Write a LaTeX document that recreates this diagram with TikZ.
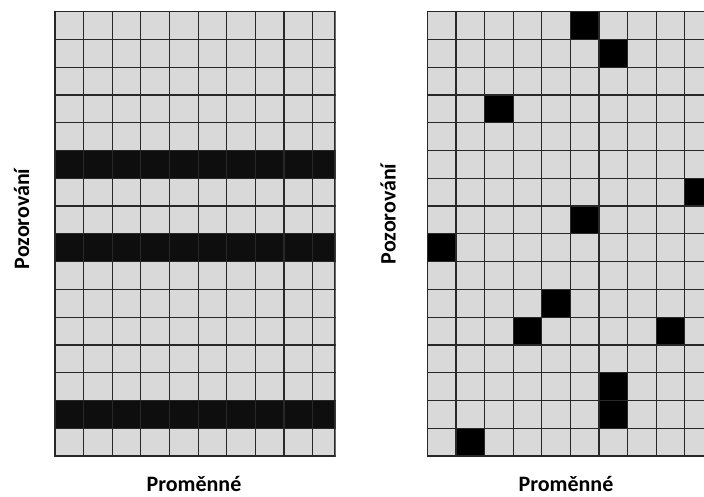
\documentclass[tikz,border=0pt]{standalone}
\usepackage{fontspec}
\setmainfont{Carlito}
\definecolor{cellgray}{RGB}{217,217,217}
\definecolor{cellline}{RGB}{40,40,40}
\definecolor{cellfull}{RGB}{14,14,14}
\usetikzlibrary{positioning}
\tikzset{
    cell/.style={fill=cellgray, draw=cellline, line width=1.2pt},
    hole/.style={fill=#1, draw=cellline, line width=1.2pt},
    hole/.default=black,
    axislabel/.style={font=\fontsize{22}{26}\selectfont\bfseries, text=black, inner sep=0pt}
}
\def\cw{28.62}
\def\ch{27.77}
\begin{document}
\begin{tikzpicture}[x=1pt, y=-1pt]
    \useasboundingbox (0,0) rectangle (704,496);
    % left panel: whole rows missing
    \begin{scope}
        \clip (54,10.5) rectangle (335.6,457);
        \foreach \r in {0,...,15}
            \foreach \c in {0,...,9}
                \draw[cell] (55+\c*\cw, 11.7+\r*\ch) rectangle ++(\cw,\ch);
        \foreach \r in {5,8,14}
            \foreach \c in {0,...,9}
                \draw[hole=cellfull] (55+\c*\cw, 11.7+\r*\ch) rectangle ++(\cw,\ch);
        \draw[cellline, line width=1.2pt] (55,11.7) rectangle (335,456);
    \end{scope}
    % right panel: single scattered cells missing
    \begin{scope}
        \clip (426.5,10.5) rectangle (704,457);
        \foreach \r in {0,...,15}
            \foreach \c in {0,...,9}
                \draw[cell] (427.3+\c*\cw, 11.7+\r*\ch) rectangle ++(\cw,\ch);
        \foreach \c/\r in {5/0, 6/1, 2/3, 9/6, 5/7, 0/8, 4/10, 3/11, 8/11, 6/13, 6/14, 1/15}
            \draw[hole] (427.3+\c*\cw, 11.7+\r*\ch) rectangle ++(\cw,\ch);
    \end{scope}
    \node[axislabel, rotate=90, anchor=base] (obsleft) at (29,219) {Pozorování};
    \node[axislabel, anchor=base] (varleft) at (194,491.5) {Proměnné};
    \node[axislabel, rotate=90, anchor=base] (obsright) at (395.5,214) {Pozorování};
    \node[axislabel, anchor=base] (varright) at (566,491.5) {Proměnné};
\end{tikzpicture}
\end{document}
